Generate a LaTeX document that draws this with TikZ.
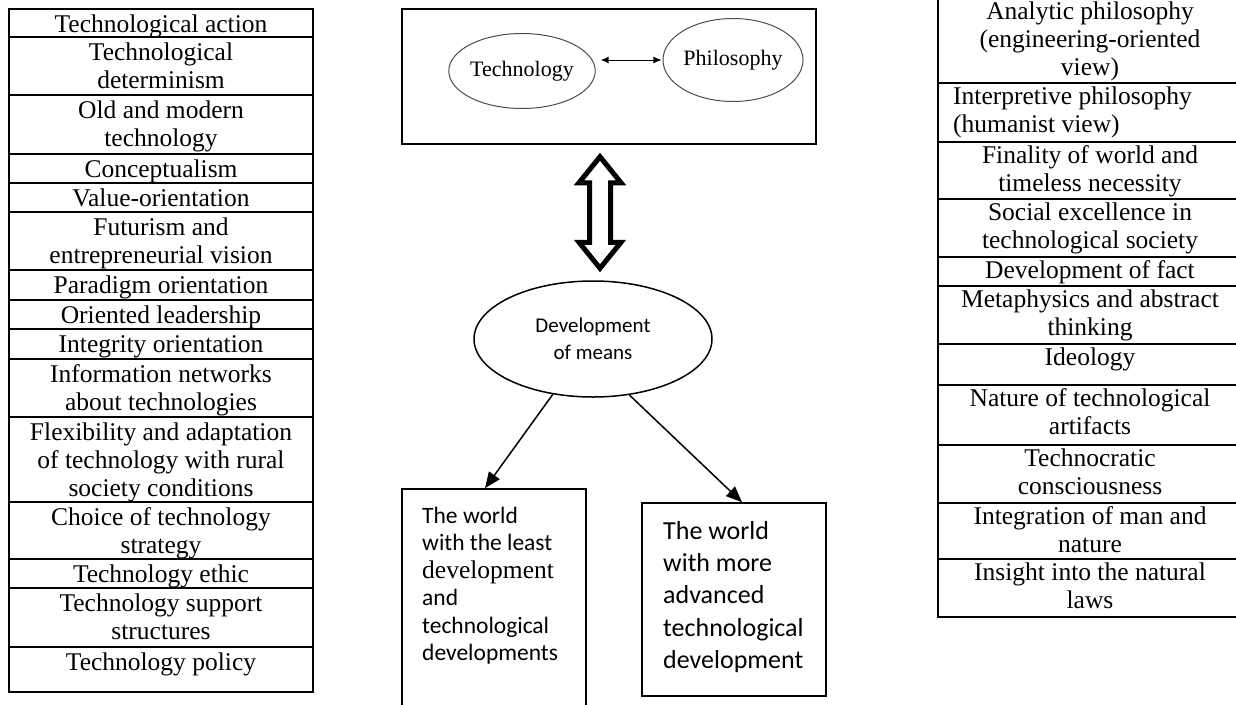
\documentclass[tikz,border=0pt]{standalone}
\usepackage{fontspec}
\setmainfont{Liberation Serif}
\newfontfamily\sansbody{Carlito}
\usetikzlibrary{arrows.meta,shapes.geometric,calc}

% table text: serif, fixed line pitch; a strut fixes the first baseline
\newcommand\tabfont{\rmfamily\fontsize{25.5}{28}\selectfont}
\newcommand\firstL{\rule{0pt}{23.5pt}}
\newcommand\firstR{\rule{0pt}{21.5pt}}

\begin{document}
\begin{tikzpicture}[x=1pt,y=-1pt,
  rule/.style={line width=1.7pt},
  cell/.style={font=\tabfont, align=center, inner sep=0pt, anchor=north},
  cellleft/.style={font=\tabfont, align=left, inner sep=0pt, anchor=north west},
  frame/.style={draw, line width=1.5pt, inner sep=0pt},
  bubble/.style={ellipse, draw=black!70, line width=1pt, inner sep=0pt,
                 font=\rmfamily\fontsize{22}{24}\selectfont},
  branch/.style={line width=1.5pt, -{Triangle[length=16pt,width=13pt]}},
  boxtext/.style={anchor=north west, inner sep=0pt, align=left}
]
\useasboundingbox (0,0) rectangle (1236,704);
\clip (0,0) rectangle (1236,704);

% ---------- left table ----------
\draw[rule] (9,9) rectangle (313,692);
\foreach \y in {37,95,154,183,212,270,300,329,359,417,502,559,588,647}
  \draw[rule] (9,\y) -- (313,\y);
\node[cell] (l1)  at (161,9)   {\firstL Technological action};
\node[cell] (l2)  at (161,37)  {\firstL Technological\\determinism};
\node[cell] (l3)  at (161,95)  {\firstL Old and modern\\technology};
\node[cell] (l4)  at (161,154) {\firstL Conceptualism};
\node[cell] (l5)  at (161,183) {\firstL Value-orientation};
\node[cell] (l6)  at (161,212) {\firstL Futurism and\\entrepreneurial vision};
\node[cell] (l7)  at (161,270) {\firstL Paradigm orientation};
\node[cell] (l8)  at (161,300) {\firstL Oriented leadership};
\node[cell] (l9)  at (161,329) {\firstL Integrity orientation};
\node[cell] (l10) at (161,359) {\firstL Information networks\\about technologies};
\node[cell] (l11) at (161,417) {\firstL Flexibility and adaptation\\of technology with rural\\society conditions};
\node[cell] (l12) at (161,502) {\firstL Choice of technology\\strategy};
\node[cell] (l13) at (161,559) {\firstL Technology ethic};
\node[cell] (l14) at (161,588) {\firstL Technology support\\structures};
\node[cell] (l15) at (161,647) {\firstL Technology policy};

% ---------- right table ----------
\draw[rule] (938,-2) rectangle (1242,617);
\foreach \y in {83,142,199,257,286,344,385,445,503,559}
  \draw[rule] (938,\y) -- (1242,\y);
\node[cell] (r1)  at (1090,-2)  {\firstR Analytic philosophy\\(engineering-oriented\\view)};
\node[cellleft] (r2) at (953,83) {\firstR Interpretive philosophy\\(humanist view)};
\node[cell] (r3)  at (1090,142) {\firstR Finality of world and\\timeless necessity};
\node[cell] (r4)  at (1090,199) {\firstR Social excellence in\\technological society};
\node[cell] (r5)  at (1090,257) {\firstR Development of fact};
\node[cell] (r6)  at (1090,286) {\firstR Metaphysics and abstract\\thinking};
\node[cell] (r7)  at (1090,344) {\firstR Ideology};
\node[cell] (r8)  at (1090,385) {\firstR Nature of technological\\artifacts};
\node[cell] (r9)  at (1090,445) {\firstR Technocratic\\consciousness};
\node[cell] (r10) at (1090,503) {\firstR Integration of man and\\nature};
\node[cell] (r11) at (1090,559) {\firstR Insight into the natural\\laws};

% ---------- centre: technology and philosophy ----------
\node[frame, minimum width=414pt, minimum height=135pt] (topbox) at (609,76.5) {};
\node[bubble, minimum width=126pt, minimum height=75pt] (tech) at (522,71) {Technology};
\node[bubble, minimum width=120pt, minimum height=83pt] (phil) at (733,60) {Philosophy};
\draw[line width=1pt, {Latex[length=8pt,width=7pt]}-{Latex[length=8pt,width=7pt]}]
  ($(tech.east |- phil.west)+(5,0)$) -- ($(phil.west)+(-1,0)$);

\node[ellipse, draw, line width=1.5pt, minimum width=238pt, minimum height=116pt,
      inner sep=0pt, align=center, font=\sansbody\fontsize{21}{27}\selectfont]
      (dev) at (593,339) {Development\\of means};

% hollow two-headed arrow between the top box and the ellipse
\coordinate (aT) at ($(topbox.south)+(-9,12)$);
\coordinate (aB) at ($(dev.north)+(7,-12)$);
\draw[line width=5pt, miter limit=10]
  (aT) -- ++(21,26) -- ++(-10.5,0) -- ($(aB)+(10.5,-26)$) -- ++(10.5,0)
  -- (aB) -- ++(-21,-26) -- ++(10.5,0) -- ($(aT)+(-10.5,26)$) -- ++(-10.5,0) -- cycle;

% ---------- the two worlds ----------
\node[frame, minimum width=184pt, minimum height=240pt] (lbox) at (494,609) {};
\node[frame, minimum width=184pt, minimum height=193pt] (rbox) at (734,599.5) {};

\node[boxtext, font=\sansbody\fontsize{23.5}{27.5}\selectfont] (ltext) at (422,503)
  {\rule{0pt}{20pt}The world\\with the least\\{\rmfamily\fontsize{25.5}{27.5}\selectfont development}\\and\\technological\\developments};
\node[boxtext, font=\sansbody\fontsize{26}{32.3}\selectfont] (rtext) at (663,517)
  {\rule{0pt}{22pt}The world\\with more\\advanced\\technological\\development};

\draw[branch] (dev.234) -- ($(lbox.north)+(-9,0)$);
\draw[branch] (dev.303) -- ($(rbox.north)+(8,0)$);
\end{tikzpicture}
\end{document}
